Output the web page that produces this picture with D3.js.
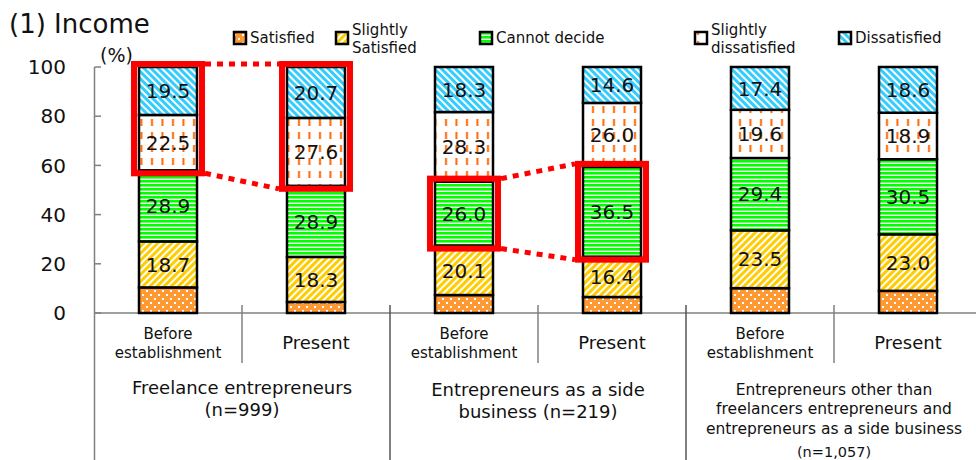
<!DOCTYPE html>
<html>
<head>
<meta charset="utf-8">
<script src="https://cdn.jsdelivr.net/npm/d3@7"></script>
<style>
  html, body { margin: 0; padding: 0; background: #fff; }
  svg { display: block; font-family: "DejaVu Sans", Verdana, sans-serif; }
</style>
</head>
<body>
<svg id="chart" width="976" height="460"></svg>
<script>
// ---------- data ----------
const slots = ["g1-before", "g1-present", "g2-before", "g2-present", "g3-before", "g3-present"];
const slotLabels = [["Before", "establishment"], ["Present"], ["Before", "establishment"], ["Present"], ["Before", "establishment"], ["Present"]];
const groupLabels = [
  ["Freelance entrepreneurs", "(n=999)"],
  ["Entrepreneurs as a side", "business (n=219)"],
  ["Entrepreneurs other than", "freelancers entrepreneurs and", "entrepreneurs as a side business", "(n=1,057)"]
];
const seriesNames = ["Satisfied", "Slightly Satisfied", "Cannot decide", "Slightly dissatisfied", "Dissatisfied"];
const satisfied            = [10.4, 4.5, 7.3, 6.5, 10.1, 9.0];
const slightlySatisfied    = [18.7, 18.3, 20.1, 16.4, 23.5, 23.0];
const cannotDecide         = [28.9, 28.9, 26.0, 36.5, 29.4, 30.5];
const slightlyDissatisfied = [22.5, 27.6, 28.3, 26.0, 19.6, 18.9];
const dissatisfied         = [19.5, 20.7, 18.3, 14.6, 17.4, 18.6];
const showLabel = [false, true, true, true, true];
const yTicks = [0, 20, 40, 60, 80, 100];
// highlighted comparisons: slot pair and series range (indices into seriesNames)
const highlights = [
  { from: 0, to: 1, s0: 3, s1: 4 },
  { from: 2, to: 3, s0: 2, s1: 2 }
];

// ---------- setup ----------
const seriesValues = [satisfied, slightlySatisfied, cannotDecide, slightlyDissatisfied, dissatisfied];
const table = slots.map((s, i) => {
  const o = { slot: s };
  seriesNames.forEach((n, k) => o[n] = seriesValues[k][i]);
  return o;
});
const stacked = d3.stack().keys(seriesNames)(table);

const svg = d3.select("#chart");
const x = d3.scaleBand().domain(slots).range([94, 982]).padding(0);
const y = d3.scaleLinear().domain([0, 100]).range([313, 67]);
const barW = 58;
const gray = "#808080";

// ---------- patterns ----------
const defs = svg.append("defs");
const fills = ["url(#p0)", "url(#p1)", "url(#p2)", "url(#p3)", "url(#p4)"];
// Satisfied: orange with white dots
let p = defs.append("pattern").attr("id", "p0").attr("patternUnits", "userSpaceOnUse").attr("width", 8).attr("height", 8);
p.append("rect").attr("width", 8).attr("height", 8).attr("fill", "#FF9933");
p.append("rect").attr("x", 2).attr("y", 2).attr("width", 2).attr("height", 2).attr("fill", "#fff");
p.append("rect").attr("x", 6).attr("y", 6).attr("width", 2).attr("height", 2).attr("fill", "#fff");
// Slightly satisfied: yellow with white "/" stripes
p = defs.append("pattern").attr("id", "p1").attr("patternUnits", "userSpaceOnUse").attr("width", 5).attr("height", 5)
  .attr("patternTransform", "rotate(45)");
p.append("rect").attr("width", 5).attr("height", 5).attr("fill", "#FFCC00");
p.append("rect").attr("x", 0).attr("width", 2).attr("height", 5).attr("fill", "#fff");
// Cannot decide: green with white horizontal stripes
p = defs.append("pattern").attr("id", "p2").attr("patternUnits", "userSpaceOnUse").attr("width", 4).attr("height", 4);
p.append("rect").attr("width", 4).attr("height", 4).attr("fill", "#00FF00");
p.append("rect").attr("y", 2.6).attr("width", 4).attr("height", 1.4).attr("fill", "#fff");
// Slightly dissatisfied: white with orange vertical dashes
p = defs.append("pattern").attr("id", "p3").attr("patternUnits", "userSpaceOnUse").attr("width", 10.5).attr("height", 13);
p.append("rect").attr("width", 10.5).attr("height", 13).attr("fill", "#fff");
p.append("rect").attr("x", 4).attr("y", 2).attr("width", 2).attr("height", 7).attr("fill", "#FF6600");
// Dissatisfied: blue with white "\" stripes
p = defs.append("pattern").attr("id", "p4").attr("patternUnits", "userSpaceOnUse").attr("width", 5).attr("height", 5)
  .attr("patternTransform", "rotate(-45)");
p.append("rect").attr("width", 5).attr("height", 5).attr("fill", "#33CCFF");
p.append("rect").attr("x", 0).attr("width", 2).attr("height", 5).attr("fill", "#fff");

// ---------- title ----------
svg.append("text").attr("x", 9).attr("y", 33).attr("font-size", 26).attr("fill", "#111").text("(1) Income");
svg.append("text").attr("x", 100).attr("y", 62).attr("font-size", 19).attr("fill", "#111").text("(%)");

// ---------- y axis ----------
const yAxis = svg.append("g");
yAxis.append("line").attr("x1", 94.5).attr("x2", 94.5).attr("y1", y(100)).attr("y2", 460)
  .attr("stroke", gray).attr("stroke-width", 1.5);
yAxis.selectAll("line.tick").data(yTicks).join("line").attr("class", "tick")
  .attr("x1", 94.5).attr("x2", 101).attr("y1", d => y(d)).attr("y2", d => y(d))
  .attr("stroke", gray).attr("stroke-width", 1.5);
yAxis.selectAll("text").data(yTicks).join("text")
  .attr("x", 66).attr("y", d => y(d)).attr("dy", "0.36em").attr("text-anchor", "end")
  .attr("font-size", 20).attr("fill", "#111").text(d => d);

// ---------- x axis / table ----------
svg.append("line").attr("x1", 94).attr("x2", 976).attr("y1", y(0)).attr("y2", y(0))
  .attr("stroke", gray).attr("stroke-width", 1.5);
slots.forEach((s, i) => {
  if (i === 0) return;
  const xx = x(s);
  const isGroup = i % 2 === 0;
  svg.append("line").attr("x1", xx).attr("x2", xx).attr("y1", 305).attr("y2", isGroup ? 460 : 363)
    .attr("stroke", isGroup ? "#555" : gray).attr("stroke-width", 1.5);
});
// slot labels
slots.forEach((s, i) => {
  const cx = x(s) + x.bandwidth() / 2;
  const lines = slotLabels[i];
  if (lines.length === 2) {
    svg.append("text").attr("x", cx).attr("y", 339).attr("text-anchor", "middle").attr("font-size", 15).attr("fill", "#111").text(lines[0]);
    svg.append("text").attr("x", cx).attr("y", 358).attr("text-anchor", "middle").attr("font-size", 15).attr("fill", "#111").text(lines[1]);
  } else {
    svg.append("text").attr("x", cx).attr("y", 349).attr("text-anchor", "middle").attr("font-size", 18).attr("fill", "#111").text(lines[0]);
  }
});
// group labels
groupLabels.forEach((lines, g) => {
  const cx = x(slots[2 * g + 1]);
  if (lines.length === 2) {
    lines.forEach((t, k) => {
      svg.append("text").attr("x", cx).attr("y", (g === 0 ? 394 : 396) + k * 22)
        .attr("text-anchor", "middle").attr("font-size", 18).attr("fill", "#111").text(t);
    });
  } else {
    const ys = [395, 414, 434, 457];
    lines.forEach((t, k) => {
      svg.append("text").attr("x", cx).attr("y", ys[k])
        .attr("text-anchor", "middle").attr("font-size", k === 3 ? 14.5 : 15.5).attr("fill", "#111").text(t);
    });
  }
});

// ---------- bars ----------
const barsG = svg.append("g");
stacked.forEach((layer, k) => {
  barsG.selectAll(null).data(layer).join("rect")
    .attr("x", d => x(d.data.slot) + (x.bandwidth() - barW) / 2)
    .attr("y", d => y(d[1]))
    .attr("width", barW)
    .attr("height", d => y(d[0]) - y(d[1]))
    .attr("fill", fills[k])
    .attr("stroke", "#000").attr("stroke-width", 2.5);
});
stacked.forEach((layer, k) => {
  if (!showLabel[k]) return;
  barsG.selectAll(null).data(layer).join("text")
    .attr("x", d => x(d.data.slot) + x.bandwidth() / 2)
    .attr("y", d => (y(d[0]) + y(d[1])) / 2)
    .attr("dy", "0.36em")
    .attr("text-anchor", "middle").attr("font-size", 20).attr("fill", "#111")
    .text(d => d3.format(".1f")(d[1] - d[0]));
});

// ---------- highlights ----------
const padX = 5, padY = 3;
highlights.forEach(h => {
  const boxes = [h.from, h.to].map(i => {
    const x0 = x(slots[i]) + (x.bandwidth() - barW) / 2 - padX;
    const x1 = x(slots[i]) + (x.bandwidth() + barW) / 2 + padX;
    const top = y(stacked[h.s1][i][1]) - padY;
    const bot = y(stacked[h.s0][i][0]) + padY;
    return { x0, x1, top, bot };
  });
  const [a, b] = boxes;
  svg.append("line").attr("x1", a.x1 + 3).attr("y1", a.top).attr("x2", b.x0 - 3).attr("y2", b.top)
    .attr("stroke", "#FF0000").attr("stroke-width", 5).attr("stroke-dasharray", "6,6");
  svg.append("line").attr("x1", a.x1 + 3).attr("y1", a.bot).attr("x2", b.x0 - 3).attr("y2", b.bot)
    .attr("stroke", "#FF0000").attr("stroke-width", 5).attr("stroke-dasharray", "6,6");
  boxes.forEach(bx => {
    svg.append("rect").attr("x", bx.x0).attr("y", bx.top).attr("width", bx.x1 - bx.x0).attr("height", bx.bot - bx.top)
      .attr("fill", "none").attr("stroke", "#FF0000").attr("stroke-width", 6);
  });
});

// ---------- legend ----------
const legendItems = [
  { x: 233, lines: ["Satisfied"] },
  { x: 335, lines: ["Slightly", "Satisfied"] },
  { x: 479, lines: ["Cannot decide"] },
  { x: 694, lines: ["Slightly", "dissatisfied"] },
  { x: 838, lines: ["Dissatisfied"] }
];
legendItems.forEach((it, k) => {
  svg.append("rect").attr("x", it.x + 1).attr("y", 32).attr("width", 12).attr("height", 12)
    .attr("fill", fills[k]).attr("stroke", "#000").attr("stroke-width", 2.5);
  if (it.lines.length === 1) {
    svg.append("text").attr("x", it.x + 17).attr("y", 38).attr("dy", "0.36em").attr("font-size", 15).attr("fill", "#111").text(it.lines[0]);
  } else {
    it.lines.forEach((t, j) => {
      svg.append("text").attr("x", it.x + 17).attr("y", 30 + j * 18).attr("dy", "0.36em").attr("font-size", 15).attr("fill", "#111").text(t);
    });
  }
});
</script>
</body>
</html>
